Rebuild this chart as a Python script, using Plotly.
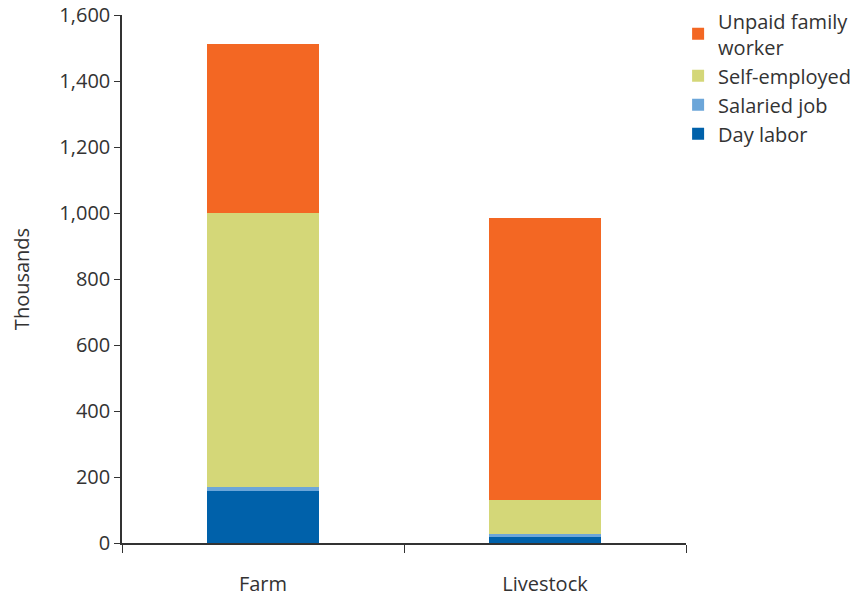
import plotly.graph_objects as go

categories = ["Farm", "Livestock"]
day_labor = [158, 18]
salaried_job = [12, 9]
self_employed = [830, 103]
unpaid_family = [512, 855]

series = [
    ("Day labor", day_labor, "#0061AA"),
    ("Salaried job", salaried_job, "#6CA6D9"),
    ("Self-employed", self_employed, "#D4D778"),
    ("Unpaid family<br>worker", unpaid_family, "#F36723"),
]

fig = go.Figure()
for i, (name, vals, color) in enumerate(series):
    fig.add_trace(go.Bar(x=categories, y=vals, name=name, legendgroup=f"g{i}",
                         marker=dict(color=color, line=dict(width=0)), width=0.4))

font_family = "Open Sans, Noto Sans, sans-serif"
fig.update_layout(
    barmode="stack",
    width=866, height=597,
    margin=dict(l=122, r=180, t=15, b=54, autoexpand=False),
    paper_bgcolor="white", plot_bgcolor="white",
    font=dict(family=font_family, size=20, color="#333333"),
    legend=dict(x=0.986, y=1.026, xanchor="left", yanchor="top", traceorder="reversed",
                font=dict(size=20, color="#333333"), tracegroupgap=3, itemwidth=30),
    xaxis=dict(showline=True, linecolor="#333333", linewidth=1.5, ticks="outside", tickson="boundaries",
               ticklen=8, tickcolor="#333333", showgrid=False, tickfont=dict(size=20),
               ticklabelstandoff=22),
    yaxis=dict(range=[0, 1600], dtick=200, tickformat=",", showline=True, linecolor="#333333", linewidth=1.5,
               ticks="outside", ticklen=6, tickcolor="#333333", showgrid=False, zeroline=False,
               ticklabeloverflow="allow",
               title=dict(text="Thousands", font=dict(size=20), standoff=24), tickfont=dict(size=20)),
)
fig.write_html("out.html", config={"displayModeBar": False},
               post_script="document.body.style.margin='0';")
